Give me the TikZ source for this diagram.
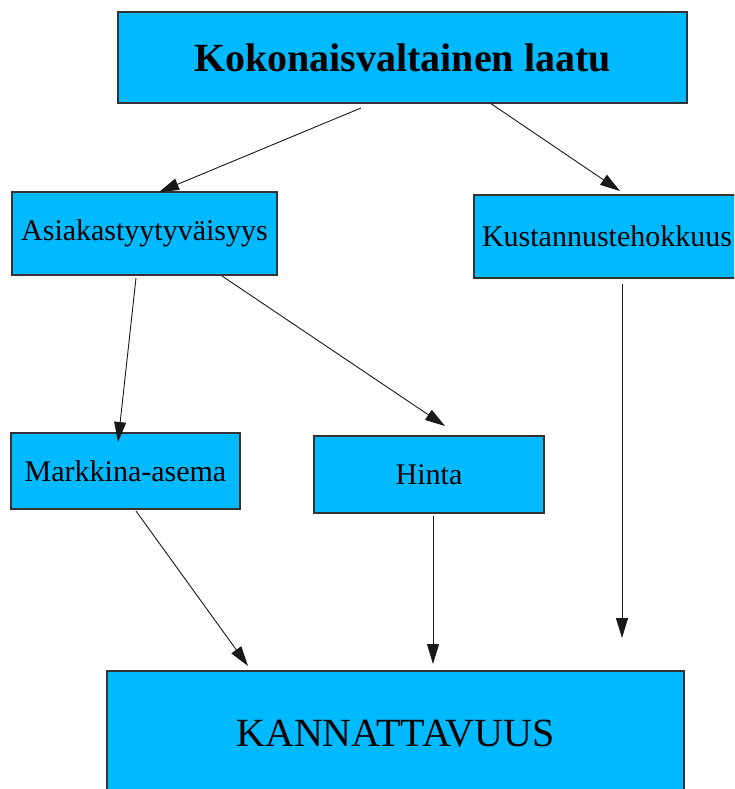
\documentclass[tikz,border=0pt]{standalone}
\usepackage{fontspec}
\setmainfont{Liberation Serif}
\usetikzlibrary{arrows.meta}
\definecolor{boxblue}{RGB}{0,185,255}
\definecolor{boxline}{RGB}{50,50,50}

\begin{document}
\begin{tikzpicture}[x=1pt, y=-1pt,
  box/.style={draw=boxline, line width=2pt, fill=boxblue, inner sep=0pt, align=center, font=\fontsize{30}{36}\selectfont},
  edge/.style={draw=black!90, line width=0.9pt, -{Triangle[length=20pt, width=12pt]}}]
 \useasboundingbox[fill=white] (0,0) rectangle (734,789);
 \clip (0,0) rectangle (734,789);
 \node[box, minimum width=569pt, minimum height=91pt, font=\fontsize{40}{48}\selectfont\bfseries] (laatu) at (402.5,57.5) {Kokonaisvaltainen laatu};
 \node[box, minimum width=265pt, minimum height=83pt] (asiakas) at (144.5,233.5) {Asiakastyytyväisyys};
 \node[box, minimum width=266pt, minimum height=83pt] (kustannus) at (607,236.5) {Kustannustehokkuus};
 \node[box, minimum width=229pt, minimum height=76pt] (markkina) at (125.5,471) {Markkina-asema};
 \node[box, minimum width=230pt, minimum height=77pt] (hinta) at (429,474.5) {Hinta};
 \node[box, minimum width=577pt, minimum height=125pt, font=\fontsize{40}{48}\selectfont] (kannattavuus) at (395.5,733.5) {KANNATTAVUUS};

 \draw[edge] ([shift={(-41.5,4)}]laatu.south) -- ([shift={(14.5,1)}]asiakas.north);
 \draw[edge] ([shift={(87.5,-1)}]laatu.south) -- ([shift={(13,-3)}]kustannus.north);
 \draw[edge] ([shift={(-8.5,2)}]asiakas.south) -- ([shift={(-7.5,10)}]markkina.north);
 \draw[edge] ([shift={(77.5,0)}]asiakas.south) -- ([shift={(16,-9)}]hinta.north);
 \draw[edge] ([shift={(10.5,1)}]markkina.south) -- ([shift={(-147.5,-4)}]kannattavuus.north);
 \draw[edge] ([shift={(4,2)}]hinta.south) -- ([shift={(37.5,-6)}]kannattavuus.north);
 \draw[edge] ([shift={(15,5)}]kustannus.south) -- ([shift={(226.5,-32)}]kannattavuus.north);
\end{tikzpicture}
\end{document}
